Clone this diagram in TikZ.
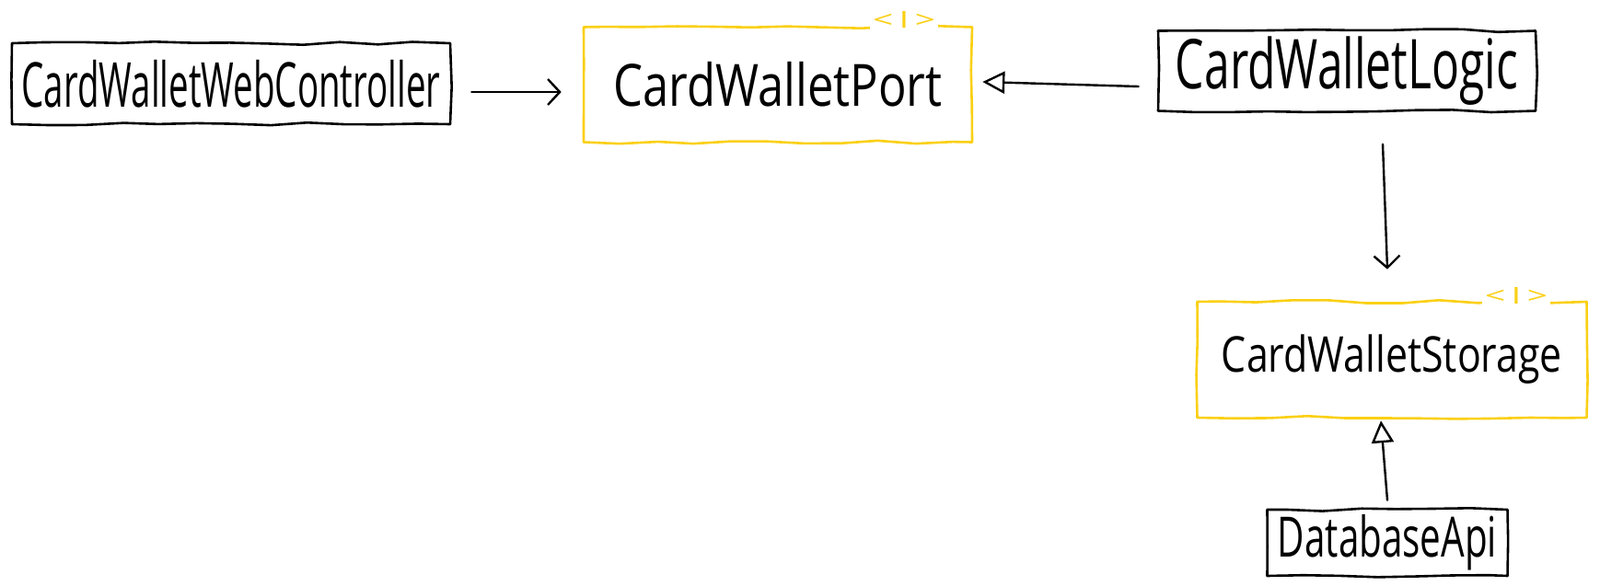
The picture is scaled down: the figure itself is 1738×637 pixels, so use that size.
\documentclass[tikz,border=0pt]{standalone}
\usepackage{graphicx}
\usepackage{fontspec}
\setmainfont{Open Sans}
\usetikzlibrary{arrows.meta,decorations.pathmorphing}
\definecolor{iface}{RGB}{250,208,20}
\newcommand{\fitw}[3]{\scalebox{1}[#2]{\resizebox{#1pt}{!}{#3}}}
\tikzset{
  sk/.style={line width=2.6pt, line cap=round, line join=round,
    decorate, decoration={random steps, segment length=40pt, amplitude=1.8pt}},
  cls/.style={sk, draw=black, inner sep=0pt},
  ifc/.style={sk, draw=iface, inner sep=0pt},
  imark/.style={fill=white, text=iface, inner sep=3pt},
  conn/.style={line width=2.4pt, line cap=round, draw=black},
  dep/.style={conn, -{Straight Barb[length=13pt,width=28pt,line width=2.4pt]}},
  real/.style={conn, -{Triangle[open,length=24pt,width=24pt,line width=2.4pt]}},
}
\begin{document}
\begin{tikzpicture}[x=1pt,y=-1pt]
\useasboundingbox (0,0) rectangle (1738,637);
\node[cls, minimum width=476pt, minimum height=88pt] (ctrl) at (251,91) {\fitw{455}{1.75}{CardWalletWebController}};
\node[ifc, minimum width=422pt, minimum height=125pt] (port) at (845,92) {\fitw{357}{1.25}{CardWalletPort}};
\node[cls, minimum width=410pt, minimum height=87pt] (logic) at (1463,77) {\fitw{372}{1.5}{CardWalletLogic}};
\node[ifc, minimum width=423pt, minimum height=126pt] (stor) at (1512,391) {\fitw{370}{1.25}{CardWalletStorage}};
\node[cls, minimum width=261pt, minimum height=72pt] (db) at (1507,590) {\fitw{238}{1.5}{DatabaseApi}};
\node[imark] (pmark) at (982,21) {\resizebox{68pt}{18pt}{<\,I\,>}};
\node[imark] (smark) at (1647,321) {\resizebox{68pt}{18pt}{<\,I\,>}};
\draw[dep] ([xshift=22pt,yshift=-9pt]ctrl.east) -- ([xshift=-23pt,yshift=-8pt]port.west);
\draw[real] ([xshift=-20pt,yshift=-17pt]logic.west) -- ([xshift=10pt,yshift=3pt]port.east);
\draw[dep] ([xshift=39pt,yshift=-35pt]logic.south) -- ([xshift=-5pt,yshift=34pt]stor.north);
\draw[real] ([yshift=9pt]db.north) -- ([xshift=-12pt,yshift=-2pt]stor.south);
\end{tikzpicture}
\end{document}
